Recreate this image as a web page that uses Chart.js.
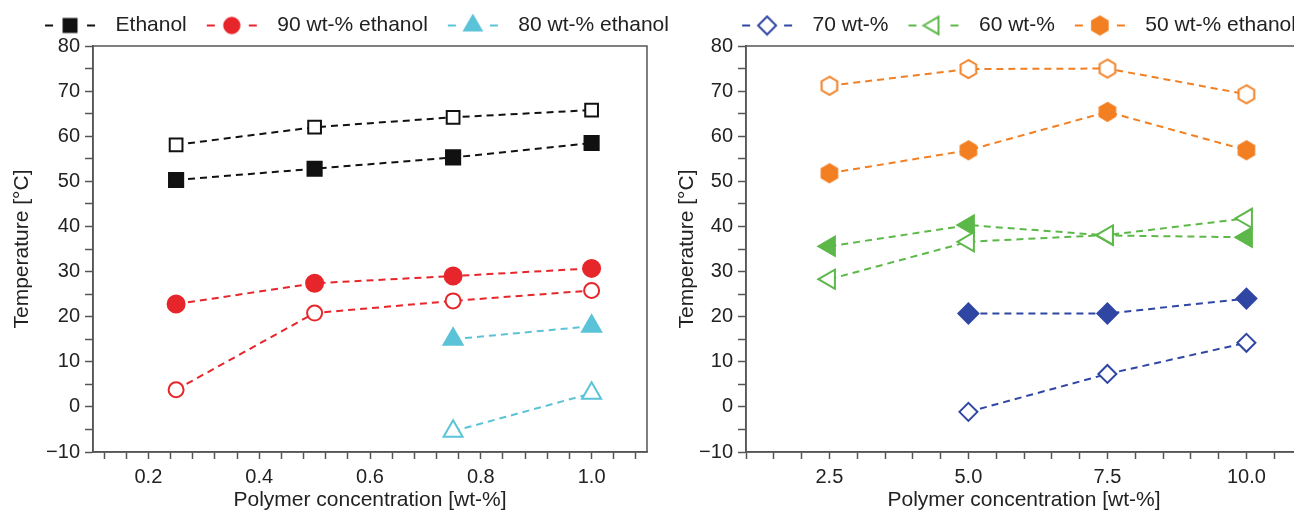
<!DOCTYPE html>
<html>
<head>
<meta charset="utf-8">
<script src="https://cdn.jsdelivr.net/npm/chart.js@4.4.1/dist/chart.umd.min.js"></script>
<style>
  html, body { margin: 0; padding: 0; background: #fff; overflow: hidden; }
  #wrap { position: relative; width: 1294px; height: 514px; overflow: hidden; }
  #leftChart { position: absolute; left: 0; top: 0; }
  #rightChart { position: absolute; left: 660px; top: 0; }
</style>
</head>
<body>
<div id="wrap">
  <canvas id="leftChart" width="704" height="514"></canvas>
  <canvas id="rightChart" width="708" height="514"></canvas>
</div>
<script>
// left panel: polymer concentration (wt-%)
const leftConc = [0.25, 0.5, 0.75, 1.0];
const ethanolOpen = [58.1, 62.0, 64.2, 65.8];
const ethanolFilled = [50.3, 52.8, 55.3, 58.5];
const eth90Filled = [22.8, 27.4, 29.0, 30.7];
const eth90Open = [3.8, 20.8, 23.5, 25.8];
const eth80Filled = [null, null, 15.0, 17.9];
const eth80Open = [null, null, -5.4, 3.0];

// right panel: polymer concentration (wt-%)
const rightConc = [2.5, 5.0, 7.5, 10.0];
const eth70Filled = [null, 20.7, 20.7, 24.0];
const eth70Open = [null, -1.1, 7.3, 14.2];
const eth60Filled = [35.6, 40.3, 38.0, 37.6];
const eth60Open = [28.3, 36.6, 38.1, 41.8];
const eth50Filled = [51.8, 56.9, 65.4, 56.9];
const eth50Open = [71.2, 74.9, 75.0, 69.3];

// tick labels
const yLabels = [-10, 0, 10, 20, 30, 40, 50, 60, 70, 80];
const leftXLabels = [0.2, 0.4, 0.6, 0.8, 1.0];
const rightXLabels = [2.5, 5.0, 7.5, 10.0];

const BLACK = '#111111', RED = '#e6262b', CYAN = '#5bc3d8';
const BLUE = '#2f46a3', GREEN = '#5cb848', ORANGE = '#f27f22';
const TEXT = '#222222', AXIS = '#555555';

Chart.defaults.font.family = '"Liberation Sans", Arial, Helvetica, sans-serif';
Chart.defaults.color = TEXT;

function shapePath(g, shape, cx, cy, r) {
    g.beginPath();
    if (shape === 'square') {
        const s = r * 0.72;
        g.rect(cx - s, cy - s, 2 * s, 2 * s);
    } else if (shape === 'circle') {
        g.arc(cx, cy, r * 0.85, 0, Math.PI * 2);
    } else if (shape === 'triangle') {
        g.moveTo(cx, cy - r);
        g.lineTo(cx + r * 0.87, cy + r * 0.5);
        g.lineTo(cx - r * 0.87, cy + r * 0.5);
        g.closePath();
    } else if (shape === 'triangleLeft') {
        g.moveTo(cx - r, cy);
        g.lineTo(cx + r * 0.5, cy - r * 0.87);
        g.lineTo(cx + r * 0.5, cy + r * 0.87);
        g.closePath();
    } else if (shape === 'diamond') {
        g.moveTo(cx, cy - r);
        g.lineTo(cx + r, cy);
        g.lineTo(cx, cy + r);
        g.lineTo(cx - r, cy);
        g.closePath();
    } else if (shape === 'hexagon') {
        for (let k = 0; k < 6; k++) {
            const a = Math.PI / 2 + k * Math.PI / 3;
            const px = cx + r * Math.cos(a), py = cy - r * Math.sin(a);
            if (k === 0) g.moveTo(px, py); else g.lineTo(px, py);
        }
        g.closePath();
    }
}

// marker image, optionally with a dash on each side (legend icon)
function markerImage(shape, color, filled, r, withDashes) {
    const h = Math.ceil(2 * r + 4);
    const w = withDashes ? 52 : h;
    const c = document.createElement('canvas');
    c.width = w;
    c.height = h;
    const g = c.getContext('2d');
    const cx = w / 2, cy = h / 2;
    if (withDashes) {
        g.strokeStyle = color;
        g.lineWidth = 2;
        g.beginPath();
        g.moveTo(1, cy); g.lineTo(9, cy);
        g.moveTo(w - 9, cy); g.lineTo(w - 1, cy);
        g.stroke();
    }
    shapePath(g, shape, cx, cy, r);
    g.fillStyle = filled ? color : '#ffffff';
    g.fill();
    g.strokeStyle = color;
    g.lineWidth = 2;
    g.stroke();
    return c;
}

function points(xs, ys) {
    return xs.map((x, i) => ({ x: x, y: ys[i] })).filter(p => p.y !== null);
}

function series(label, xs, ys, color, style, filled, radius, rotation, legendIcon) {
    return {
        label: label,
        data: points(xs, ys),
        borderColor: color,
        backgroundColor: color,
        borderWidth: 2,
        borderDash: [7, 5],
        fill: false,
        tension: 0,
        pointStyle: style,
        pointRadius: radius,
        pointHoverRadius: radius,
        pointRotation: rotation || 0,
        pointBorderWidth: 2,
        pointBorderColor: color,
        pointBackgroundColor: filled ? color : '#ffffff',
        legendIcon: legendIcon || null
    };
}

const near = (v, list) => list.some(t => Math.abs(v - t) < 1e-6);

function yScale(titlePad, width) {
    return {
        type: 'linear',
        min: -10,
        max: 80,
        ticks: {
            stepSize: 5,
            autoSkip: false,
            padding: 5,
            font: { size: 20 },
            callback: v => near(v, yLabels) ? (v < 0 ? '\u2212' + Math.abs(v) : String(v)) : ''
        },
        grid: { drawOnChartArea: false, tickLength: 8, tickColor: AXIS, tickWidth: 1.5 },
        border: { color: AXIS, width: 1.5 },
        title: { display: true, text: 'Temperature [\u00b0C]', font: { size: 21 }, padding: { top: titlePad, bottom: 0 } },
        afterFit: s => { s.width = width; }
    };
}

// empty right-hand axis that only reserves space, so the legend can use the full width
function spacerScale(width) {
    return {
        type: 'linear',
        position: 'right',
        display: true,
        ticks: { display: false },
        grid: { display: false, drawTicks: false },
        border: { display: false },
        title: { display: false },
        afterFit: s => { s.width = width; }
    };
}

function xScale(min, max, step, labels, digits) {
    return {
        type: 'linear',
        min: min,
        max: max,
        ticks: {
            autoSkip: false,
            maxRotation: 0,
            padding: 6,
            font: { size: 20 },
            callback: v => near(v, labels) ? v.toFixed(digits) : ''
        },
        afterBuildTicks: s => {
            const t = [];
            for (let k = Math.ceil(min / step - 1e-9); k * step <= max + 1e-9; k++) {
                t.push({ value: k * step });
            }
            s.ticks = t;
        },
        grid: { drawOnChartArea: false, tickLength: 7, tickColor: AXIS, tickWidth: 1.5 },
        border: { color: AXIS, width: 1.5 },
        title: { display: true, text: 'Polymer concentration [wt-%]', font: { size: 21 }, padding: { top: 0, bottom: 1 } },
        afterFit: s => { s.height = 62; }
    };
}

const framePlugin = {
    id: 'frame',
    beforeDatasetsDraw(chart) {
        const { ctx, chartArea: a } = chart;
        ctx.save();
        ctx.strokeStyle = AXIS;
        ctx.lineWidth = 1.5;
        ctx.strokeRect(a.left, a.top, a.right - a.left, a.bottom - a.top);
        ctx.restore();
    }
};

function legendOptions() {
    return {
        display: true,
        position: 'top',
        labels: {
            usePointStyle: true,
            pointStyleWidth: 70,
            padding: 10,
            font: { size: 21 },
            color: TEXT,
            generateLabels: chart => chart.data.datasets
                .map((ds, i) => ({ ds: ds, i: i }))
                .filter(o => o.ds.legendIcon)
                .map(o => ({
                    text: o.ds.label,
                    pointStyle: o.ds.legendIcon,
                    datasetIndex: o.i,
                    hidden: false,
                    fillStyle: 'transparent',
                    strokeStyle: 'transparent',
                    lineWidth: 0,
                    fontColor: TEXT
                }))
        }
    };
}

const hexFilled = markerImage('hexagon', ORANGE, true, 9, false);
const hexOpen = markerImage('hexagon', ORANGE, false, 9, false);

new Chart(document.getElementById('leftChart'), {
    type: 'line',
    data: {
        datasets: [
            series('Ethanol (open)', leftConc, ethanolOpen, BLACK, 'rect', false, 9),
            series('Ethanol', leftConc, ethanolFilled, BLACK, 'rect', true, 10, 0,
                markerImage('square', BLACK, true, 9, true)),
            series('90 wt-% ethanol', leftConc, eth90Filled, RED, 'circle', true, 8.5, 0,
                markerImage('circle', RED, true, 9, true)),
            series('90 wt-% ethanol (open)', leftConc, eth90Open, RED, 'circle', false, 7.5),
            series('80 wt-% ethanol', leftConc, eth80Filled, CYAN, 'triangle', true, 11, 0,
                markerImage('triangle', CYAN, true, 10, true)),
            series('80 wt-% ethanol (open)', leftConc, eth80Open, CYAN, 'triangle', false, 11)
        ]
    },
    options: {
        responsive: false,
        animation: false,
        layout: { padding: { top: 5 } },
        plugins: { legend: legendOptions(), tooltip: { enabled: false } },
        scales: {
            x: xScale(0.1, 1.1, 0.04, leftXLabels, 1),
            y: yScale(10, 93),
            pad: spacerScale(57)
        }
    },
    plugins: [framePlugin]
});

new Chart(document.getElementById('rightChart'), {
    type: 'line',
    data: {
        datasets: [
            series('70 wt-%', rightConc, eth70Open, BLUE, 'rectRot', false, 9, 0,
                markerImage('diamond', BLUE, false, 9, true)),
            series('70 wt-% (filled)', rightConc, eth70Filled, BLUE, 'rectRot', true, 10),
            series('60 wt-%', rightConc, eth60Open, GREEN, 'triangle', false, 11, -90,
                markerImage('triangleLeft', GREEN, false, 10, true)),
            series('60 wt-% (filled)', rightConc, eth60Filled, GREEN, 'triangle', true, 11, -90),
            series('50 wt-% ethanol', rightConc, eth50Filled, ORANGE, hexFilled, true, 9, 0,
                markerImage('hexagon', ORANGE, true, 9, true)),
            series('50 wt-% (open)', rightConc, eth50Open, ORANGE, hexOpen, false, 9)
        ]
    },
    options: {
        responsive: false,
        animation: false,
        layout: { padding: { top: 5 } },
        plugins: { legend: legendOptions(), tooltip: { enabled: false } },
        scales: {
            x: xScale(1, 11, 0.5, rightXLabels, 1),
            y: yScale(15, 86),
            pad: spacerScale(66)
        }
    },
    plugins: [framePlugin]
});
</script>
</body>
</html>
